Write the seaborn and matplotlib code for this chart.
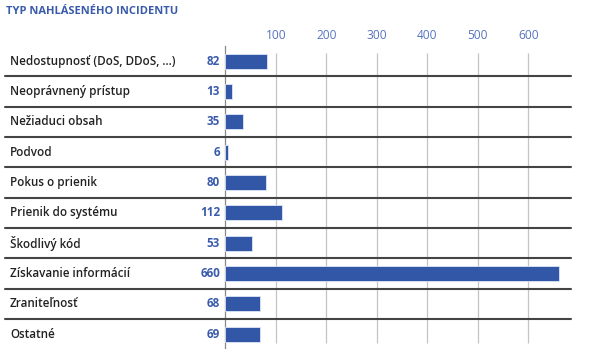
import matplotlib
matplotlib.use("Agg")
import matplotlib.pyplot as plt
import seaborn as sns
import pandas as pd

categories = [
    "Nedostupnosť (DoS, DDoS, ...)",
    "Neoprávnený prístup",
    "Nežiaduci obsah",
    "Podvod",
    "Pokus o prienik",
    "Prienik do systému",
    "Škodlivý kód",
    "Získavanie informácií",
    "Zraniteľnosť",
    "Ostatné",
]
values = [82, 13, 35, 6, 80, 112, 53, 660, 68, 69]
tick_values = [100, 200, 300, 400, 500, 600]
title = "TYP NAHLÁSENÉHO INCIDENTU"

BAR = "#3257a7"
BLUE_TXT = "#3a5bab"
TICK_TXT = "#5673bd"
DARK = "#222222"

sns.set_theme(style="white")
plt.rcParams["font.family"] = ["Open Sans", "DejaVu Sans"]

W, H = 593, 349
fig = plt.figure(figsize=(W / 100, H / 100), dpi=100)

# plotting area: zero line at x≈225 px, data runs to the right edge of the row rules
x0, x1 = 225.3, 571.0
y_top, y_bot = 46.0, 349.3
ax = fig.add_axes([x0 / W, 1 - y_bot / H, (x1 - x0) / W, (y_bot - y_top) / H])

df = pd.DataFrame({"cat": categories, "val": values})
sns.barplot(data=df, x="val", y="cat", orient="h", color=BAR, width=0.5,
            edgecolor="#dfe6f5", linewidth=0.6, saturation=1, ax=ax, zorder=3)

xmax = (x1 - x0) / 0.505
ax.set_xlim(0, xmax)
ax.set_ylim(len(categories) - 0.5, -0.5)

# vertical gridlines
ax.vlines(tick_values, -0.26, len(categories) - 0.7, color="#c4c4c4", lw=0.9, zorder=1)

# horizontal rules between rows, extending into the label area
left_frac = (5 - x0) / (x1 - x0)
for i in range(len(categories) - 1):
    ax.plot([left_frac, 1.0], [i + 0.5, i + 0.5], transform=ax.get_yaxis_transform(),
            color="#444444", lw=1.5, clip_on=False, zorder=4)

# category names and values
name_frac = (10 - x0) / (x1 - x0)
val_frac = (220 - x0) / (x1 - x0)
for i, (c, v) in enumerate(zip(categories, values)):
    ax.text(name_frac, i, c, transform=ax.get_yaxis_transform(), ha="left", va="center",
            fontsize=8.4, fontweight="semibold", color=DARK)
    ax.text(val_frac, i, f"{v}", transform=ax.get_yaxis_transform(), ha="right", va="center",
            fontsize=8.4, fontweight="bold", color=BLUE_TXT)

# tick labels along the top
ax.set_xticks(tick_values)
ax.set_xticklabels([str(t) for t in tick_values])
ax.xaxis.tick_top()
ax.tick_params(axis="x", length=0, pad=3, labelsize=8.6, labelcolor=TICK_TXT)
ax.set_yticks([])
ax.set_xlabel("")
ax.set_ylabel("")

for s in ["top", "right", "bottom"]:
    ax.spines[s].set_visible(False)
ax.spines["left"].set_color("#8a8a8a")
ax.spines["left"].set_linewidth(0.9)

fig.text(6 / W, 1 - 12 / H, title, ha="left", va="center", fontsize=8.0,
         fontweight="bold", color=BLUE_TXT)

fig.savefig("out.png", dpi=100)
